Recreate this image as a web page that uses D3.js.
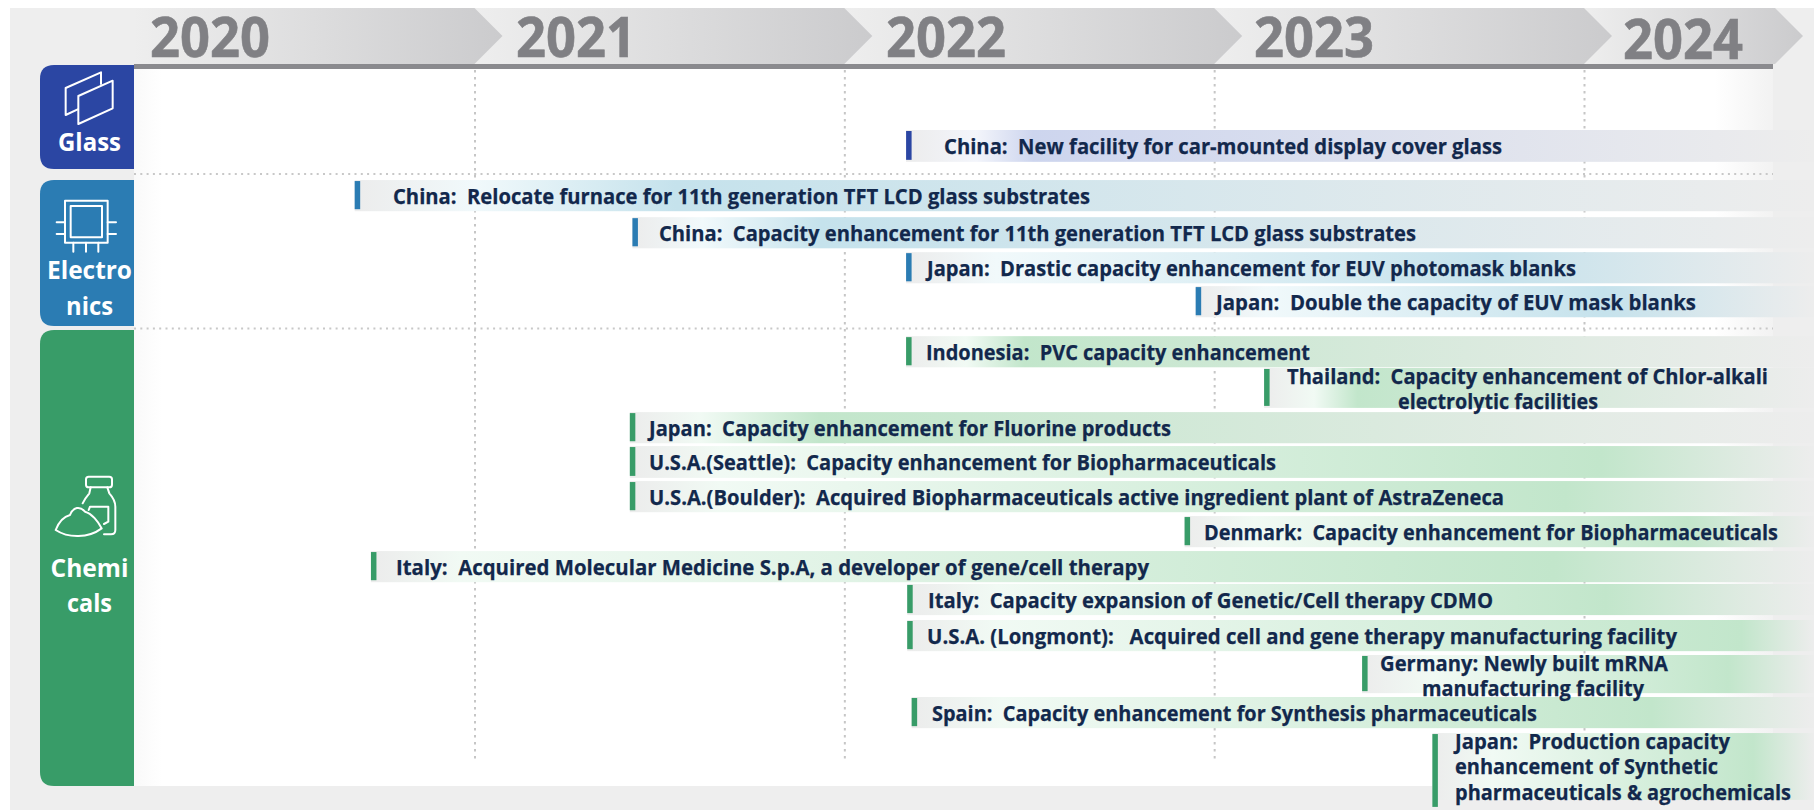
<!DOCTYPE html>
<html><head><meta charset="utf-8">
<script src="https://cdnjs.cloudflare.com/ajax/libs/d3/7.8.5/d3.min.js"></script>
<style>html,body{margin:0;padding:0;background:#fff;overflow:hidden}svg{display:block}
text{font-family:"Open Sans",sans-serif;font-weight:700;white-space:pre}</style></head><body>
<svg id="c" width="1814" height="810"></svg>
<script>
// ---- data ----
const years = [2020, 2021, 2022, 2023, 2024];
const gridYears = [2021, 2022, 2023, 2024];
const categories = ["Glass", "Electronics", "Chemicals"];
const categoryLines = [["Glass"], ["Electro", "nics"], ["Chemi", "cals"]];
const itemCategory = [0, 1, 1, 1, 1, 2, 2, 2, 2, 2, 2, 2, 2, 2, 2, 2, 2];
const itemLabels = [
  ["China:  New facility for car-mounted display cover glass"],
  ["China:  Relocate furnace for 11th generation TFT LCD glass substrates"],
  ["China:  Capacity enhancement for 11th generation TFT LCD glass substrates"],
  ["Japan:  Drastic capacity enhancement for EUV photomask blanks"],
  ["Japan:  Double the capacity of EUV mask blanks"],
  ["Indonesia:  PVC capacity enhancement"],
  ["Thailand:  Capacity enhancement of Chlor-alkali", "electrolytic facilities"],
  ["Japan:  Capacity enhancement for Fluorine products"],
  ["U.S.A.(Seattle):  Capacity enhancement for Biopharmaceuticals"],
  ["U.S.A.(Boulder):  Acquired Biopharmaceuticals active ingredient plant of AstraZeneca"],
  ["Denmark:  Capacity enhancement for Biopharmaceuticals"],
  ["Italy:  Acquired Molecular Medicine S.p.A, a developer of gene/cell therapy"],
  ["Italy:  Capacity expansion of Genetic/Cell therapy CDMO"],
  ["U.S.A. (Longmont):   Acquired cell and gene therapy manufacturing facility"],
  ["Germany: Newly built mRNA", "manufacturing facility"],
  ["Spain:  Capacity enhancement for Synthesis pharmaceuticals"],
  ["Japan:  Production capacity", "enhancement of Synthetic", "pharmaceuticals & agrochemicals"]
];
// start of each item on the time axis, in decimal years
const itemStart = [2022.167, 2020.676, 2021.427, 2022.167, 2022.95, 2022.167, 2023.135, 2021.42, 2021.42, 2021.42, 2022.92, 2020.72, 2022.17, 2022.17, 2023.40, 2022.182, 2023.59];
// vertical slot of each item and the number of slots it spans
const itemSlot = [0, 1.43, 2.49, 3.49, 4.46, 5.89, 6.8, 8.06, 9.03, 10.03, 11.03, 12.03, 12.97, 14, 15, 16.2, 17.23];
const itemSpan = [0.91, 0.89, 0.89, 0.89, 0.89, 0.89, 1.14, 0.89, 0.91, 0.89, 0.89, 0.89, 0.89, 0.89, 1.09, 0.89, 1.91];
// ---- layout and style ----
const W = 1814, H = 810, panelL = 134, panelR = 1773;
const catColor = ["#2b46a3", "#2b7cb3", "#389c68"];
const peakColor = ["#cdd5ee", "#c5e2ec", "#c2e6cb"];
const paleColor = ["#f3f5fb", "#f1f9fb", "#f1faf4"];
const catBox = [[65, 169], [180, 326], [330, 786]];
const sepY = [174, 328.5];
const yearCenter = [210, 576, 946, 1314, 1683];
const yearBase = [57, 57, 57, 57, 58.5];
const itemPeak = [0.14, 0.22, 0.16, 0.65, 0.66, 0.13, 0.17, 0.16, 0.82, 0.79, 0.8, 0.82, 0.77, 0.92, 0.81, 0.82, 0.84];
const itemPale = [70, 120, 70, 90, 70, 60, 50, 70, 90, 90, 70, 90, 90, 90, 70, 90, 60];
const textLeft = [[944], [393], [659], [927], [1216], [926], [1287, 1398], [649], [649], [649], [1204], [396], [928], [927], [1380, 1422], [932], [1455, 1455, 1455]];
const textWidth = [[558], [697], [757], [649], [480], [384], [481, 200], [522], [627], [855], [574], [753], [565], [750], [288, 222], [605], [275, 263, 336]];

const svg = d3.select("#c");
const defs = svg.append("defs");
const x = d3.scaleLinear().domain([2021, 2024]).range([474.5, 1584]);
const y = d3.scaleLinear().domain([0, 18]).range([130, 760]);

svg.append("rect").attr("x", 10).attr("y", 8).attr("width", W - 10).attr("height", H - 8).attr("fill", "#eeeeee");

// header chevrons
const hg = defs.append("linearGradient").attr("id", "hg");
hg.append("stop").attr("offset", 0).attr("stop-color", "#eeeeee");
hg.append("stop").attr("offset", 1).attr("stop-color", "#cbcbcd");
const segL = d => d === years[0] ? panelL : x(d);
const segR = d => d === years[years.length - 1] ? 1775 : x(d + 1);
svg.append("g").selectAll("path").data(years.slice().reverse()).join("path")
  .attr("d", d => `M${segL(d)},8H${segR(d)}L${segR(d) + 28},36L${segR(d)},64H${segL(d)}Z`)
  .attr("fill", "url(#hg)");
svg.append("g").selectAll("text").data(years).join("text")
  .attr("x", (d, i) => yearCenter[i]).attr("y", (d, i) => yearBase[i]).attr("text-anchor", "middle")
  .attr("font-size", 55).attr("fill", "#808084").attr("stroke", "#808084").attr("stroke-width", 0.6)
  .attr("textLength", 120).attr("lengthAdjust", "spacingAndGlyphs").text(d => d);

// panel
svg.append("rect").attr("x", panelL).attr("y", 66).attr("width", panelR - panelL).attr("height", 720).attr("fill", "#fff");
const pf = defs.append("linearGradient").attr("id", "pf").attr("gradientUnits", "userSpaceOnUse").attr("x1", 1715).attr("x2", panelR).attr("y1", 0).attr("y2", 0);
pf.append("stop").attr("offset", 0).attr("stop-color", "#ffffff");
pf.append("stop").attr("offset", 1).attr("stop-color", "#f2f2f2");
svg.append("rect").attr("x", 1715).attr("y", 66).attr("width", panelR - 1715).attr("height", 720).attr("fill", "url(#pf)");
const pl = defs.append("linearGradient").attr("id", "pl");
pl.append("stop").attr("offset", 0).attr("stop-color", "#f9f9f9");
pl.append("stop").attr("offset", 1).attr("stop-color", "#ffffff");
svg.append("rect").attr("x", panelL).attr("y", 66).attr("width", 28).attr("height", 720).attr("fill", "url(#pl)");
svg.append("rect").attr("x", panelL).attr("y", 64).attr("width", panelR - panelL).attr("height", 5).attr("fill", "#8a8a8e");

// vertical year grid through a d3 axis
const gridAxis = d3.axisBottom(x).tickValues(gridYears).tickSize(690).tickFormat("");
const gridG = svg.append("g").attr("transform", "translate(0,70)").call(gridAxis);
gridG.select(".domain").remove();
gridG.selectAll("line").attr("stroke", "#c6c6c6").attr("stroke-width", 2).attr("stroke-dasharray", "2.5 4.5");

// category separators
svg.append("g").selectAll("line").data(sepY).join("line")
  .attr("x1", panelL).attr("x2", panelR).attr("y1", d => d).attr("y2", d => d)
  .attr("stroke", "#c8c8c8").attr("stroke-width", 2.2).attr("stroke-dasharray", "2 4.3");

// item bars
const items = itemLabels.map((lines, i) => ({ lines, i, cat: itemCategory[i], start: itemStart[i], slot: itemSlot[i], span: itemSpan[i] }));
items.forEach(d => {
  const x0 = x(d.start), len = W - x0;
  const g = defs.append("linearGradient").attr("id", "b" + d.i).attr("gradientUnits", "userSpaceOnUse")
    .attr("x1", x0).attr("x2", W).attr("y1", 0).attr("y2", 0);
  const pale = itemPale[d.i] / len, peak = Math.max(itemPeak[d.i], pale + 0.02);
  [[0, "#ececec"], [pale, paleColor[d.cat]], [peak, peakColor[d.cat]], [1, "#ededed"]].forEach(s =>
    g.append("stop").attr("offset", s[0]).attr("stop-color", s[1]));
});
svg.append("g").selectAll("rect").data(items).join("rect")
  .attr("x", d => x(d.start)).attr("y", d => y(d.slot))
  .attr("width", d => W - x(d.start)).attr("height", d => y(d.slot + d.span) - y(d.slot))
  .attr("fill", d => `url(#b${d.i})`);
svg.append("g").selectAll("rect").data(items).join("rect")
  .attr("x", d => x(d.start)).attr("y", d => y(d.slot) + 1)
  .attr("width", 5.5).attr("height", d => y(d.slot + d.span) - y(d.slot) - 3 + (d.lines.length === 3 ? 9 : 0))
  .attr("fill", d => catColor[d.cat]);
// labels sit above every bar, so a second line can overlap the next bar
const labelG = svg.append("g");
items.forEach(d => {
  const top = y(d.slot);
  d.lines.forEach((t, j) => {
    const base = d.lines.length === 1 ? top + 24 : top + 15.5 + j * 25.5;
    labelG.append("text").attr("x", textLeft[d.i][j]).attr("y", base)
      .attr("font-size", 22).attr("fill", "#12284c").attr("stroke", "#12284c").attr("stroke-width", 0.25)
      .attr("textLength", textWidth[d.i][j]).attr("lengthAdjust", "spacingAndGlyphs").text(t);
  });
});

// category tabs
const tabs = svg.append("g").selectAll("path").data(categories).join("path")
  .attr("d", (d, i) => {
    const [a, b] = catBox[i], r = 14, l = 40;
    return `M${panelL},${a}H${l + r}Q${l},${a} ${l},${a + r}V${b - r}Q${l},${b} ${l + r},${b}H${panelL}Z`;
  }).attr("fill", (d, i) => catColor[i]);
const catBase = [[150.5], [279, 315], [577, 612]];
const catCenter = 89.5;
const catW = [[63], [85, 47], [78, 45]];
categoryLines.forEach((lines, i) => lines.forEach((t, j) => {
  svg.append("text").attr("x", catCenter).attr("y", catBase[i][j]).attr("text-anchor", "middle")
    .attr("fill", "#fff").attr("font-size", 25)
    .attr("textLength", catW[i][j]).attr("lengthAdjust", "spacingAndGlyphs").text(t);
}));

// icons
const ic = (tx, ty) => svg.append("g").attr("transform", `translate(${tx},${ty}) scale(${1 / 3})`)
  .attr("fill", "none").attr("stroke", "#fff").attr("stroke-width", 6).attr("stroke-linejoin", "round").attr("stroke-linecap", "round");
const g1 = ic(30, 60);
g1.append("path").attr("d", "M213,72V37L107,84V165L143,148");
g1.append("path").attr("d", "M145,108L248,62V145L145,192Z");
const g2 = ic(30, 60);
g2.append("rect").attr("x", 105).attr("y", 422).attr("width", 128).attr("height", 126);
g2.append("rect").attr("x", 122).attr("y", 438).attr("width", 94).attr("height", 94);
g2.append("path").attr("d", "M80,487H105M80,522H105M233,487H258M233,522H258M130,548V575M168,548V575M205,548V575");
const g3 = ic(30, 460);
g3.append("rect").attr("x", 168).attr("y", 50).attr("width", 78).attr("height", 32).attr("rx", 8);
g3.append("path").attr("d", "M182,82L178,100Q165,115 158,130M232,82L238,100Q256,120 256,140V210Q256,223 243,223H222");
g3.append("path").attr("d", "M176,150L180,140H235V185L222,192");
g3.append("path").attr("d", "M77,210C85,190 100,170 120,165C130,140 150,138 165,155C185,160 205,185 215,205C175,235 115,235 77,210Z");
</script></body></html>
